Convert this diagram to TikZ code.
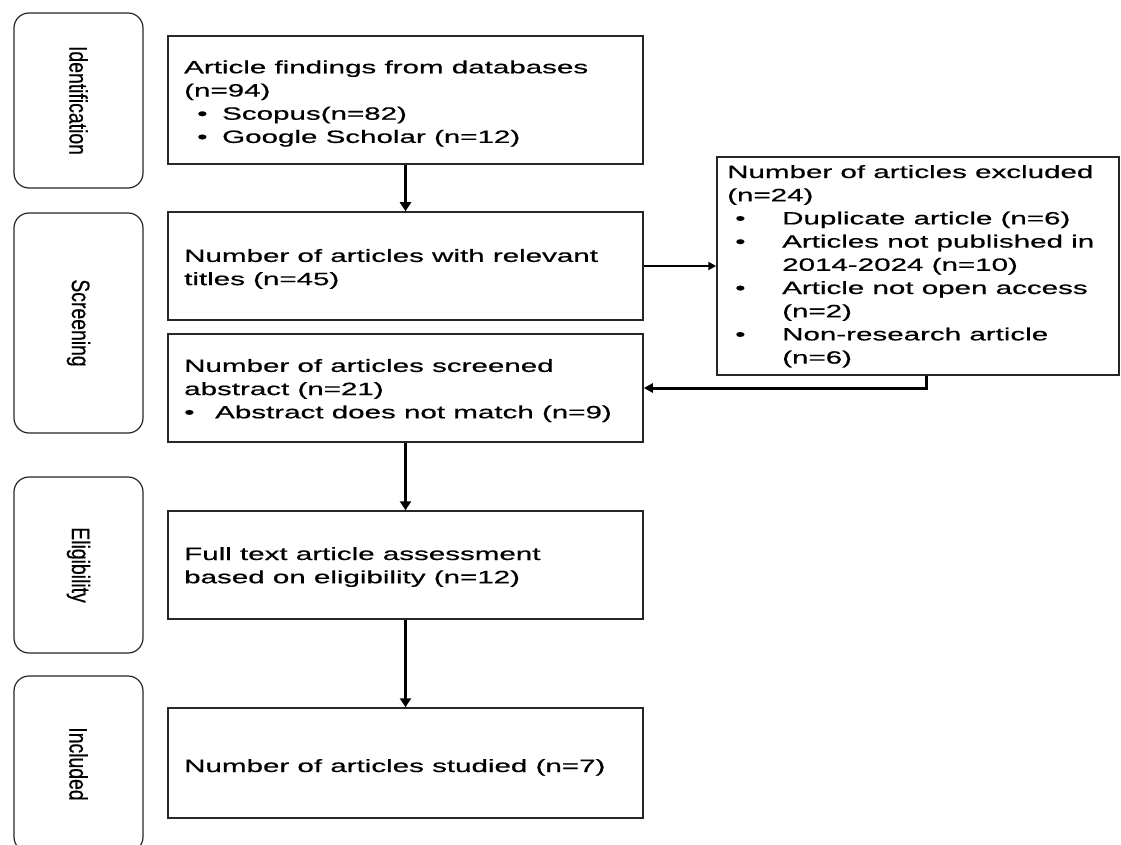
\documentclass[tikz,border=0pt]{standalone}
\usepackage{fontspec}
\usepackage{graphicx}
\setmainfont{Liberation Sans}[FakeStretch=1.66,FakeBold=0.6]
\newfontfamily\rotfont{Liberation Sans}[FakeBold=0.6]
\usetikzlibrary{arrows.meta}
\begin{document}
\begin{tikzpicture}[x=1pt,y=-1pt,
  box/.style={draw=black!85, line width=1.5pt, rectangle, inner sep=0pt, minimum width=475pt},
  exbox/.style={draw=black!85, line width=1.5pt, rectangle, inner sep=0pt, minimum width=402pt, minimum height=218pt},
  side/.style={draw=black!85, line width=1.2pt, rounded corners=15pt, rectangle, inner sep=0pt, minimum width=129pt},
  txt/.style={align=left, inner sep=0pt, anchor=west, font=\fontsize{17.8pt}{23.2pt}\selectfont},
  lab/.style={rotate=-90, inner sep=0pt, font=\rotfont\fontsize{19.4pt}{22pt}\selectfont},
  varr/.style={line width=3pt, -{Triangle[length=9pt,width=11pt]}},
  harr/.style={line width=2pt, -{Triangle[length=8pt,width=8pt]}},
  earr/.style={line width=3pt, -{Triangle[length=9pt,width=9pt]}},
]
\useasboundingbox (0,0) rectangle (1121,845);

% side phase boxes
\node[side, minimum height=175pt] (s1) at (78.5,100.5) {};
\node[lab] (l1) at (s1) {\scalebox{1}[1.3]{Identification}};
\node[side, minimum height=220pt] (s2) at (78.5,323) {};
\node[lab] (l2) at (s2) {\scalebox{1}[1.3]{Screening}};
\node[side, minimum height=176pt] (s3) at (78.5,565) {};
\node[lab] (l3) at (s3) {\scalebox{1}[1.3]{Eligibility}};
\node[side, minimum height=176pt] (s4) at (78.5,764) {};
\node[lab] (l4) at (s4) {\scalebox{1}[1.3]{Included}};

% main boxes
\node[box, minimum height=128pt] (b1) at (405.5,100) {};
\node[box, minimum height=108pt] (b2) at (405.5,266) {};
\node[box, minimum height=108pt] (b3) at (405.5,388) {};
\node[box, minimum height=108pt] (b4) at (405.5,565) {};
\node[box, minimum height=110pt] (b5) at (405.5,763) {};
\node[exbox] (ex) at (918,266) {};

% texts
\node[txt] (t1) at (184,103.5) {Article findings from databases\\
(n=94)\\
\hspace*{13pt}\makebox[25pt][l]{•}Scopus(n=82)\\
\hspace*{13pt}\makebox[25pt][l]{•}Google Scholar (n=12)};
\node[txt] (t2) at (184,268.9) {Number of articles with relevant\\
titles (n=45)};
\node[txt] (t3) at (184,390.5) {Number of articles screened\\
abstract (n=21)\\
\makebox[31pt][l]{•}Abstract does not match (n=9)};
\node[txt] (t4) at (184,567) {Full text article assessment\\
based on eligibility (n=12)};
\node[txt] (t5) at (184,767.4) {Number of articles studied (n=7)};
\node[txt] (t6) at (727,266.2) {Number of articles excluded\\
(n=24)\\
\hspace*{8pt}\makebox[47pt][l]{•}Duplicate article (n=6)\\
\hspace*{8pt}\makebox[47pt][l]{•}Articles not published in\\
\hspace*{55pt}2014-2024 (n=10)\\
\hspace*{8pt}\makebox[47pt][l]{•}Article not open access\\
\hspace*{55pt}(n=2)\\
\hspace*{8pt}\makebox[47pt][l]{•}Non-research article\\
\hspace*{55pt}(n=6)};

% connectors
\draw[varr] (b1) -- (b2);
\draw[varr] (b3) -- (b4);
\draw[varr] (b4) -- (b5);
\draw[harr] (b2.east) -- (ex.west);
\coordinate (k) at (926,0);
\draw[earr] (ex.south -| k) |- (b3.east);
\end{tikzpicture}
\end{document}
